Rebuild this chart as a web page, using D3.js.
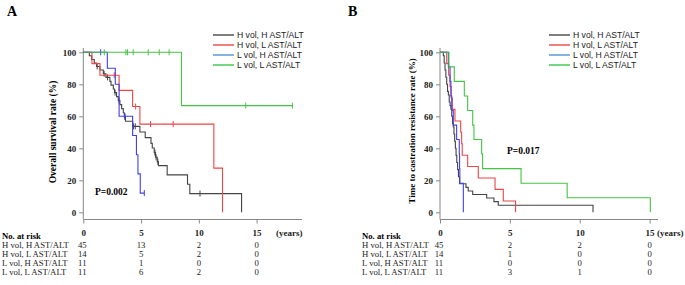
<!DOCTYPE html>
<html>
<head>
<meta charset="utf-8">
<script src="https://cdn.jsdelivr.net/npm/d3@7"></script>
<style>
  body { margin: 0; background: #fff; }
  svg text { font-family: "Liberation Serif", "Times New Roman", serif; }
  .legend text { font-family: "Liberation Sans", Arial, sans-serif; }
</style>
</head>
<body>
<div id="chart"></div>
<script>
// groups (legend / at-risk row labels)
const groups = ["H vol, H AST/ALT", "H vol, L AST/ALT", "L vol, H AST/ALT", "L vol, L AST/ALT"];
const lineColors = ["#444444", "#ee4545", "#4040ee", "#44c444"];
const legendColors = ["#555555", "#ee5555", "#5a9ad8", "#44cc55"];
const xTicks = [0, 5, 10, 15];
const yTicks = [0, 20, 40, 60, 80, 100];

// Panel A: overall survival, steps [years, % after step]
const blackA = [[0.52,97.8],[0.72,95.5],[0.95,93.3],[1.15,91.1],[1.44,88.9],[1.73,86.6],[1.96,84.3],[2.3,81.8],[2.4,79.5],[2.6,77.1],[2.7,74.8],[2.88,72.3],[3.03,69.8],[3.17,67.3],[3.32,64.8],[3.46,62.2],[3.55,59.6],[3.65,56.9],[4.27,53.7],[4.9,50.2],[5.36,46.7],[5.86,43.1],[5.97,40.2],[6.14,37.3],[6.25,34.4],[6.4,31.7],[6.5,29.2],[7.26,23.4],[9.02,17.5],[9.22,11.7],[13.7,0]];
const redA = [[0.75,92.9],[1.44,85.7],[3.1,76.2],[4.27,66.1],[4.9,55.1],[11.3,27.6],[12.05,0]];
const blueA = [[2.08,90],[2.77,80],[3.1,60],[4.27,48],[4.6,36],[4.73,24],[4.93,12]];
const greenA = [[8.5,66.7]];
const censorA = [
  [1.2,1.8,2.1,2.75,3.1,3.6,4.35,4.5,6.2,6.3,6.45,10.1],
  [2.68,4.53,5.82,7.78],
  [1.5,3.6,5.28],
  [1.82,3.69,3.83,4.32,5.62,6.57,7.43,14.06,18.1]
];
const endA = [13.7, 12.05, 5.28, 18.1];
const riskA = [[45,13,2,0],[14,5,2,0],[11,1,0,0],[11,6,2,0]];

// Panel B: time to castration resistance
const blackB = [[0.24,97.8],[0.3,93.3],[0.36,88.9],[0.42,84.4],[0.48,80],[0.54,75.6],[0.6,73.3],[0.66,68.9],[0.72,66.7],[0.78,64.4],[0.84,60],[0.9,55.6],[0.95,53.3],[1.0,48.9],[1.05,44.4],[1.1,40],[1.15,35.6],[1.2,31.1],[1.26,26.7],[1.32,22.2],[1.4,17.8],[1.86,15.6],[2.02,13.3],[2.34,11.1],[3.34,8.9],[3.86,6.7],[4.17,4.4],[10.95,0]];
const redB = [[0.48,92.9],[0.62,85.7],[0.72,78.6],[0.8,71.4],[0.88,64.3],[1.07,57.1],[1.48,50],[1.55,42.9],[1.59,35.7],[1.98,28.6],[2.74,21.4],[3.94,14.3],[4.53,7.1],[5.41,0]];
const blueB = [[0.6,90.9],[0.72,81.8],[0.78,72.7],[0.84,63.6],[0.95,54.5],[1.19,45.5],[1.38,36.4],[1.4,27.3],[1.42,18.2],[1.67,0]];
const greenB = [[0.64,90.9],[1.02,81.8],[1.74,72.7],[1.98,63.6],[2.34,54.5],[2.43,45.5],[2.98,36.4],[3.05,27.3],[5.8,18.2],[9.1,9.1],[15.05,0]];
const endB = [10.95, 5.41, 1.67, 15.05];
const riskB = [[45,2,2,0],[14,1,0,0],[11,0,0,0],[11,3,1,0]];

const svg = d3.select("#chart").append("svg")
  .attr("width", 685)
  .attr("height", 285);

function panel(p) {
  const x = d3.scaleLinear().domain([0, p.xMax]).range([p.x0, p.x1]);
  const y = d3.scaleLinear().domain([0, 100]).range([212.3, 52.3]);
  const g = svg.append("g");

  g.append("text").attr("x", p.letterX).attr("y", 16)
    .style("font-weight", "bold").style("font-size", "14px").text(p.letter);

  // axes
  const yAx = g.append("g").attr("transform", `translate(${p.x0},0)`)
    .call(d3.axisLeft(y).tickValues(yTicks).tickSize(4).tickPadding(3));
  yAx.select(".domain").remove();
  yAx.selectAll("line").attr("stroke", "#888");
  yAx.selectAll("text").style("font-family", "Liberation Serif").style("font-weight", "bold").style("font-size", "9px").attr("fill", "#222");
  g.append("line").attr("x1", p.x0).attr("x2", p.x0).attr("y1", 48).attr("y2", 219.5).attr("stroke", "#888");

  const xAx = g.append("g").attr("transform", "translate(0,219.5)")
    .call(d3.axisBottom(x).tickValues(xTicks).tickSize(4).tickPadding(6));
  xAx.select(".domain").attr("d", `M${p.x0},0H${p.x1}`).attr("stroke", "#888");
  xAx.selectAll("line").attr("stroke", "#888");
  xAx.selectAll("text").style("font-family", "Liberation Serif").style("font-weight", "bold").style("font-size", "9px").attr("fill", "#222");
  g.append("text").attr("x", p.yearsX).attr("y", 235.5)
    .style("font-weight", "bold").style("font-size", "9px").attr("fill", "#222").text("(years)");

  g.append("text")
    .attr("transform", `translate(${p.titleX},${p.titleY}) rotate(-90)`)
    .attr("text-anchor", "middle")
    .style("font-weight", "bold").style("font-size", p.titleSize)
    .text(p.title);

  g.append("text").attr("x", p.pX).attr("y", p.pY)
    .style("font-weight", "bold").style("font-size", "9.5px").text(p.pText);

  // curves
  const line = d3.line().x(d => x(d[0])).y(d => y(d[1])).curve(d3.curveStepAfter);
  p.series.forEach((s, i) => {
    const pts = [[0, 100]].concat(s);
    const last = pts[pts.length - 1];
    if (p.ends[i] > last[0]) pts.push([p.ends[i], last[1]]);
    g.append("path").datum(pts).attr("d", line)
      .attr("fill", "none").attr("stroke", lineColors[i]).attr("stroke-width", 1.1);
    if (p.censors) {
      const surv = t => { let v = 100; s.forEach(d => { if (d[0] <= t) v = d[1]; }); return v; };
      g.selectAll(null).data(p.censors[i]).enter().append("line")
        .attr("x1", d => x(d)).attr("x2", d => x(d))
        .attr("y1", d => y(surv(d)) - 3).attr("y2", d => y(surv(d)) + 3)
        .attr("stroke", lineColors[i]).attr("stroke-width", 1);
    }
  });

  // legend
  const leg = g.append("g").attr("class", "legend");
  groups.forEach((name, i) => {
    const ly = 35 + i * 10;
    leg.append("line").attr("x1", p.legX).attr("x2", p.legX + 21).attr("y1", ly).attr("y2", ly)
      .attr("stroke", legendColors[i]).attr("stroke-width", 1.5);
    leg.append("text").attr("x", p.legX + 24).attr("y", ly + 3)
      .style("font-size", "8.6px").attr("fill", "#222").text(name);
  });

  // number at risk
  g.append("text").attr("x", p.riskX).attr("y", 239)
    .style("font-weight", "bold").style("font-size", "8.7px").text("No. at risk");
  groups.forEach((name, i) => {
    const ry = 247.5 + i * 9;
    g.append("text").attr("x", p.riskX).attr("y", ry)
      .style("font-size", "8.7px").attr("fill", "#222").text(name);
    g.selectAll(null).data(p.risk[i]).enter().append("text")
      .attr("x", (d, j) => x(xTicks[j]) + (j === 0 ? -1 : 0))
      .attr("y", ry)
      .attr("text-anchor", "middle")
      .style("font-size", "8.7px").attr("fill", "#222")
      .text(d => d);
  });
}

panel({
  letter: "A", letterX: 7, x0: 83.3, x1: 302, xMax: 18.93, yearsX: 276,
  title: "Overall survival rate (%)", titleX: 56, titleY: 132, titleSize: "9.5px",
  pText: "P=0.002", pX: 95, pY: 194.5,
  series: [blackA, redA, blueA, greenA], ends: endA, censors: censorA,
  legX: 213, risk: riskA, riskX: 2
});

panel({
  letter: "B", letterX: 348, x0: 440, x1: 658, xMax: 15.6, yearsX: 657,
  title: "Time to castration resistance rate (%)", titleX: 415, titleY: 131, titleSize: "9px",
  pText: "P=0.017", pX: 507, pY: 153.5,
  series: [blackB, redB, blueB, greenB], ends: endB, censors: null,
  legX: 549, risk: riskB, riskX: 362
});
</script>
</body>
</html>
